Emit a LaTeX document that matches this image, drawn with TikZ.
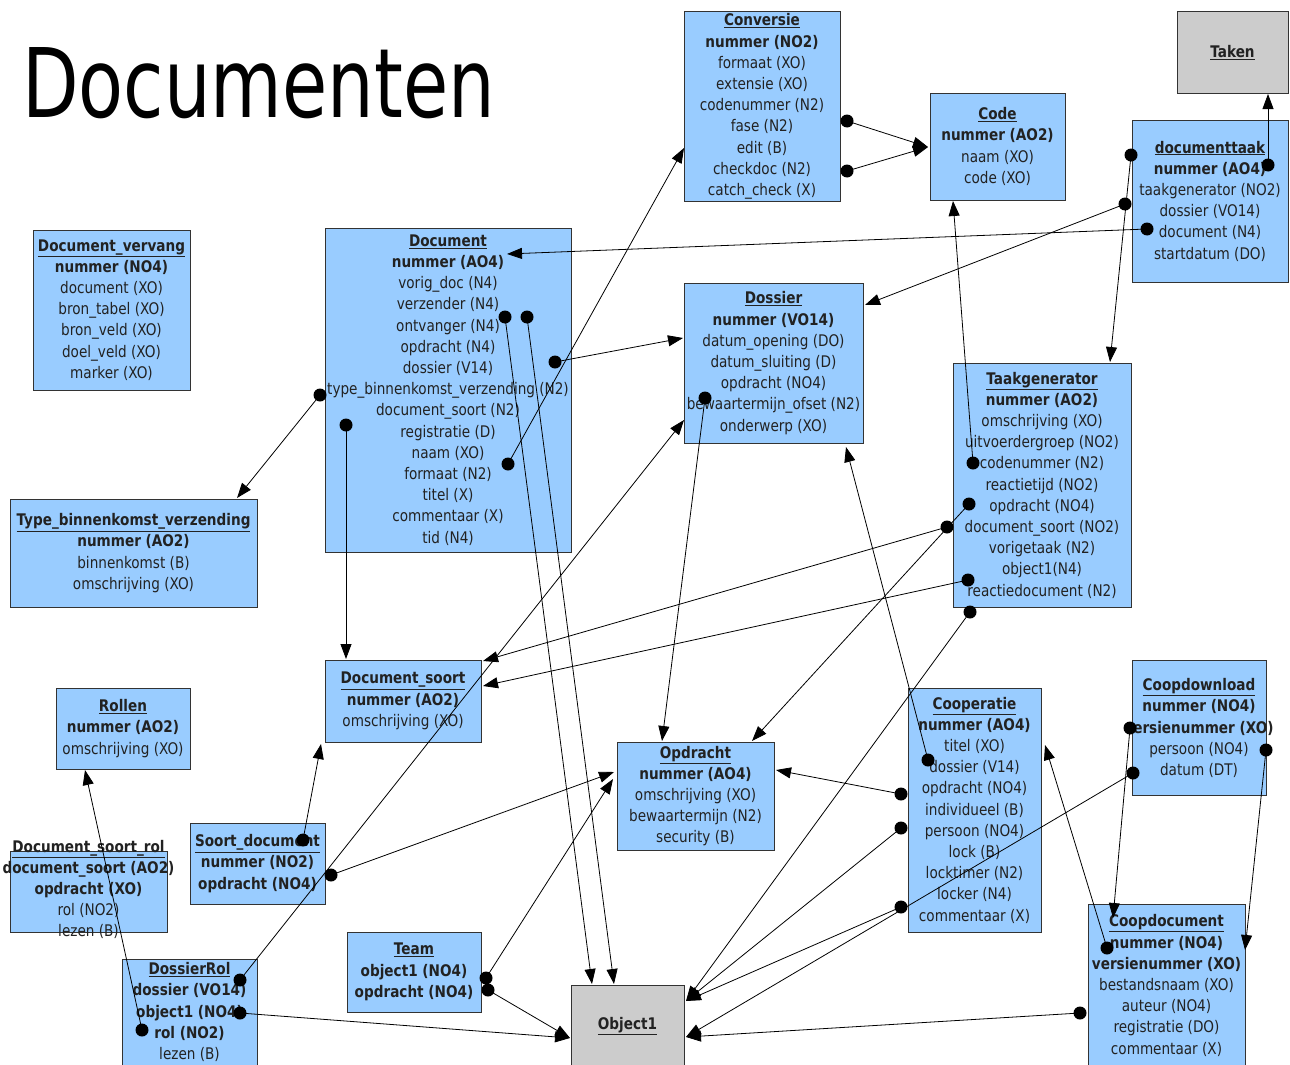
\documentclass[tikz,border=0pt]{standalone}
\usepackage{fontspec}
\usepackage{graphicx}
\setmainfont{DejaVu Sans}[FakeStretch=0.85]
\newfontfamily\titlefont{DejaVu Sans}
\usetikzlibrary{arrows.meta}
\definecolor{boxblue}{HTML}{99CCFF}
\definecolor{boxgray}{HTML}{CCCCCC}
\definecolor{edgecol}{HTML}{333333}
\definecolor{txtcol}{HTML}{222222}
\newcommand{\ttl}[1]{\textbf{\underline{#1}}}
\newcommand{\pk}[1]{\textbf{#1}}
\begin{document}
\begin{tikzpicture}[x=1pt,y=-1pt,
  ent/.style={draw=edgecol, line width=1pt, fill=boxblue, align=center, inner sep=0pt,
    font=\fontsize{16}{21.2}\selectfont, text=txtcol},
  grayent/.style={ent, fill=boxgray},
  enttext/.style={align=center, inner sep=0pt, font=\fontsize{16}{21.2}\selectfont, text=txtcol},
  rel/.style={line width=0.8pt, -{Triangle[length=15pt,width=11pt]}},
  dot/.style={fill=black}
]
\fill[white] (0,0) rectangle (1290,1065);
\useasboundingbox (0,0) rectangle (1290,1065);

% title
\node[anchor=base west, inner sep=0pt, text=black] (title) at (22,117)
  {\titlefont\fontsize{96}{96}\selectfont\scalebox{0.766}[1]{Documenten}};

% entities
\node[ent, minimum width=156pt, minimum height=189pt] (conv) at (762,106.5)
  {\ttl{Conversie}\\ \pk{nummer (NO2)}\\ formaat (XO)\\ extensie (XO)\\ codenummer (N2)\\ fase (N2)\\ edit (B)\\ checkdoc (N2)\\ catch\_check (X)};
\node[ent, minimum width=135pt, minimum height=107pt] (code) at (997.5,146.5)
  {\ttl{Code}\\ \pk{nummer (AO2)}\\ naam (XO)\\ code (XO)};
\node[grayent, minimum width=111pt, minimum height=81pt] (taken) at (1232.5,52.5)
  {\ttl{Taken}};
\node[ent, minimum width=156pt, minimum height=162pt] (dtaak) at (1210,201)
  {\ttl{documenttaak}\\ \pk{nummer (AO4)}\\ taakgenerator (NO2)\\ dossier (VO14)\\ document (N4)\\ startdatum (DO)};
\node[ent, minimum width=157pt, minimum height=160pt] (dverv) at (111.5,310)
  {\ttl{Document\_vervang}\\ \pk{nummer (NO4)}\\ document (XO)\\ bron\_tabel (XO)\\ bron\_veld (XO)\\ doel\_veld (XO)\\ marker (XO)};
\node[ent, minimum width=246pt, minimum height=324pt] (doc) at (448,390)
  {\ttl{Document}\\ \pk{nummer (AO4)}\\ vorig\_doc (N4)\\ verzender (N4)\\ ontvanger (N4)\\ opdracht (N4)\\ dossier (V14)\\ type\_binnenkomst\_verzending (N2)\\ document\_soort (N2)\\ registratie (D)\\ naam (XO)\\ formaat (N2)\\ titel (X)\\ commentaar (X)\\ tid (N4)};
\node[ent, minimum width=179pt, minimum height=160pt] (dos) at (773.5,363)
  {\ttl{Dossier}\\ \pk{nummer (VO14)}\\ datum\_opening (DO)\\ datum\_sluiting (D)\\ opdracht (NO4)\\ bewaartermijn\_ofset (N2)\\ onderwerp (XO)};
\node[ent, minimum width=178pt, minimum height=244pt] (tgen) at (1042,485)
  {\ttl{Taakgenerator}\\ \pk{nummer (AO2)}\\ omschrijving (XO)\\ uitvoerdergroep (NO2)\\ codenummer (N2)\\ reactietijd (NO2)\\ opdracht (NO4)\\ document\_soort (NO2)\\ vorigetaak (N2)\\ object1(N4)\\ reactiedocument (N2)};
\node[ent, minimum width=247pt, minimum height=108pt] (tbv) at (133.5,553)
  {\ttl{Type\_binnenkomst\_verzending}\\ \pk{nummer (AO2)}\\ binnenkomst (B)\\ omschrijving (XO)};
\node[ent, minimum width=156pt, minimum height=82pt] (dsoort) at (403,701)
  {\ttl{Document\_soort}\\ \pk{nummer (AO2)}\\ omschrijving (XO)};
\node[ent, minimum width=134pt, minimum height=81pt] (rollen) at (123,728.5)
  {\ttl{Rollen}\\ \pk{nummer (AO2)}\\ omschrijving (XO)};
\node[ent, minimum width=157pt, minimum height=81pt] (dsr) at (88.5,891.5) {};
\node[enttext] (dsrtext) at (88.5,889.5)
  {\ttl{Document\_soort\_rol}\\ \pk{document\_soort (AO2)}\\ \pk{opdracht (XO)}\\ rol (NO2)\\ lezen (B)};
\node[ent, minimum width=135pt, minimum height=81pt] (sdoc) at (257.5,863.5)
  {\ttl{Soort\_document}\\ \pk{nummer (NO2)}\\ \pk{opdracht (NO4)}};
\node[ent, minimum width=135pt, minimum height=106pt] (drol) at (189.5,1012)
  {\ttl{DossierRol}\\ \pk{dossier (VO14)}\\ \pk{object1 (NO4)}\\ \pk{rol (NO2)}\\ lezen (B)};
\node[ent, minimum width=134pt, minimum height=80pt] (team) at (414,972)
  {\ttl{Team}\\ \pk{object1 (NO4)}\\ \pk{opdracht (NO4)}};
\node[ent, minimum width=157pt, minimum height=108pt] (opd) at (695.5,796)
  {\ttl{Opdracht}\\ \pk{nummer (AO4)}\\ omschrijving (XO)\\ bewaartermijn (N2)\\ security (B)};
\node[grayent, minimum width=113pt, minimum height=82pt] (obj) at (627.5,1026)
  {\ttl{Object1}};
\node[ent, minimum width=133pt, minimum height=244pt] (coop) at (974.5,810)
  {\ttl{Cooperatie}\\ \pk{nummer (AO4)}\\ titel (XO)\\ dossier (V14)\\ opdracht (NO4)\\ individueel (B)\\ persoon (NO4)\\ lock (B)\\ locktimer (N2)\\ locker (N4)\\ commentaar (X)};
\node[ent, minimum width=134pt, minimum height=135pt] (cdl) at (1199,727.5) {};
\node[enttext] (cdltext) at (1199,728)
  {\ttl{Coopdownload}\\ \pk{nummer (NO4)}\\ \pk{versienummer (XO)}\\ persoon (NO4)\\ datum (DT)};
\node[ent, minimum width=157pt, minimum height=163pt] (cdoc) at (1166.5,985.5)
  {\ttl{Coopdocument}\\ \pk{nummer (NO4)}\\ \pk{versienummer (XO)}\\ bestandsnaam (XO)\\ auteur (NO4)\\ registratie (DO)\\ commentaar (X)};

% connector end points (dots = attribute side, tips = referenced entity)
\coordinate (dA) at (847,121);   \coordinate (dB) at (847,171);
\coordinate (dC) at (508,464);   \coordinate (dD) at (1147,229);
\coordinate (dE) at (1125,204);  \coordinate (dF) at (1131,155);
\coordinate (dG) at (1268,165);  \coordinate (dH) at (320,395);
\coordinate (dI) at (346,425);   \coordinate (dJ) at (505,317);
\coordinate (dK) at (527,317);   \coordinate (dL) at (555,362);
\coordinate (dM) at (705,398);   \coordinate (dN) at (973,463);
\coordinate (dO) at (969,504);   \coordinate (dP) at (947,527);
\coordinate (dQ) at (968,580);   \coordinate (dR) at (970,612);
\coordinate (dS) at (928,760);   \coordinate (dT) at (240,980);
\coordinate (dU) at (303,840);   \coordinate (dV) at (331,875);
\coordinate (dW) at (901,794);   \coordinate (dX) at (901,828);
\coordinate (dY) at (901,907);   \coordinate (dZ) at (1133,773);
\coordinate (dAA) at (1080,1013); \coordinate (dBB) at (486,978);
\coordinate (dCC) at (488,990);  \coordinate (dDD) at (240,1013);
\coordinate (dEE) at (142,1030); \coordinate (dFF) at (1130,728);
\coordinate (dGG) at (1266,750); \coordinate (dHH) at (1107,948);

\coordinate (codeIn) at (928,147);
\coordinate (convIn) at (684,148);
\coordinate (docIn) at (507,254);
\coordinate (dosInA) at (865,305);
\coordinate (dosInB) at (683,338);
\coordinate (dosInC) at (846,447);
\coordinate (dosInD) at (684,420);
\coordinate (tgenIn) at (1110,362);
\coordinate (takenIn) at (1268,94);
\coordinate (tbvIn) at (237,498);
\coordinate (dsoortInA) at (346,659);
\coordinate (dsoortInB) at (483,661);
\coordinate (dsoortInC) at (483,686);
\coordinate (dsoortInD) at (321,744);
\coordinate (objInA) at (592,984);
\coordinate (objInB) at (614,984);
\coordinate (objInC) at (686,1001);
\coordinate (objInD) at (686,1037);
\coordinate (objInE) at (570,1038);
\coordinate (opdInA) at (662,741);
\coordinate (opdInB) at (752,741);
\coordinate (opdInC) at (614,772);
\coordinate (opdInD) at (776,770);
\coordinate (opdInE) at (613,779);
\coordinate (codeInB) at (953,201);
\coordinate (rollenIn) at (85,770);
\coordinate (cdocInA) at (1113,918);
\coordinate (cdocInB) at (1245,950);
\coordinate (coopIn) at (1045,745);

% connectors
\draw[rel] (dA) -- (codeIn);
\draw[rel] (dB) -- (codeIn);
\draw[rel] (dC) -- (convIn);
\draw[rel] (dD) -- (docIn);
\draw[rel] (dE) -- (dosInA);
\draw[rel] (dF) -- (tgenIn);
\draw[rel] (dG) -- (takenIn);
\draw[rel] (dH) -- (tbvIn);
\draw[rel] (dI) -- (dsoortInA);
\draw[rel] (dJ) -- (objInA);
\draw[rel] (dK) -- (objInB);
\draw[rel] (dL) -- (dosInB);
\draw[rel] (dM) -- (opdInA);
\draw[rel] (dN) -- (codeInB);
\draw[rel] (dO) -- (opdInB);
\draw[rel] (dP) -- (dsoortInB);
\draw[rel] (dQ) -- (dsoortInC);
\draw[rel] (dR) -- (objInC);
\draw[rel] (dS) -- (dosInC);
\draw[rel] (dT) -- (dosInD);
\draw[rel] (dU) -- (dsoortInD);
\draw[rel] (dV) -- (opdInC);
\draw[rel] (dW) -- (opdInD);
\draw[rel] (dX) -- (objInC);
\draw[rel] (dY) -- (objInC);
\draw[rel] (dZ) -- (objInD);
\draw[rel] (dAA) -- (objInD);
\draw[rel] (dBB) -- (opdInE);
\draw[rel] (dCC) -- (objInE);
\draw[rel] (dDD) -- (objInE);
\draw[rel] (dEE) -- (rollenIn);
\draw[rel] (dFF) -- (cdocInA);
\draw[rel] (dGG) -- (cdocInB);
\draw[rel] (dHH) -- (coopIn);

% dots
\foreach \p in {dA,dB,dC,dD,dE,dF,dG,dH,dI,dJ,dK,dL,dM,dN,dO,dP,dQ,dR,dS,dT,dU,dV,dW,dX,dY,dZ,dAA,dBB,dCC,dDD,dEE,dFF,dGG,dHH}
  \fill[dot] (\p) circle (6.5pt);
\end{tikzpicture}
\end{document}
